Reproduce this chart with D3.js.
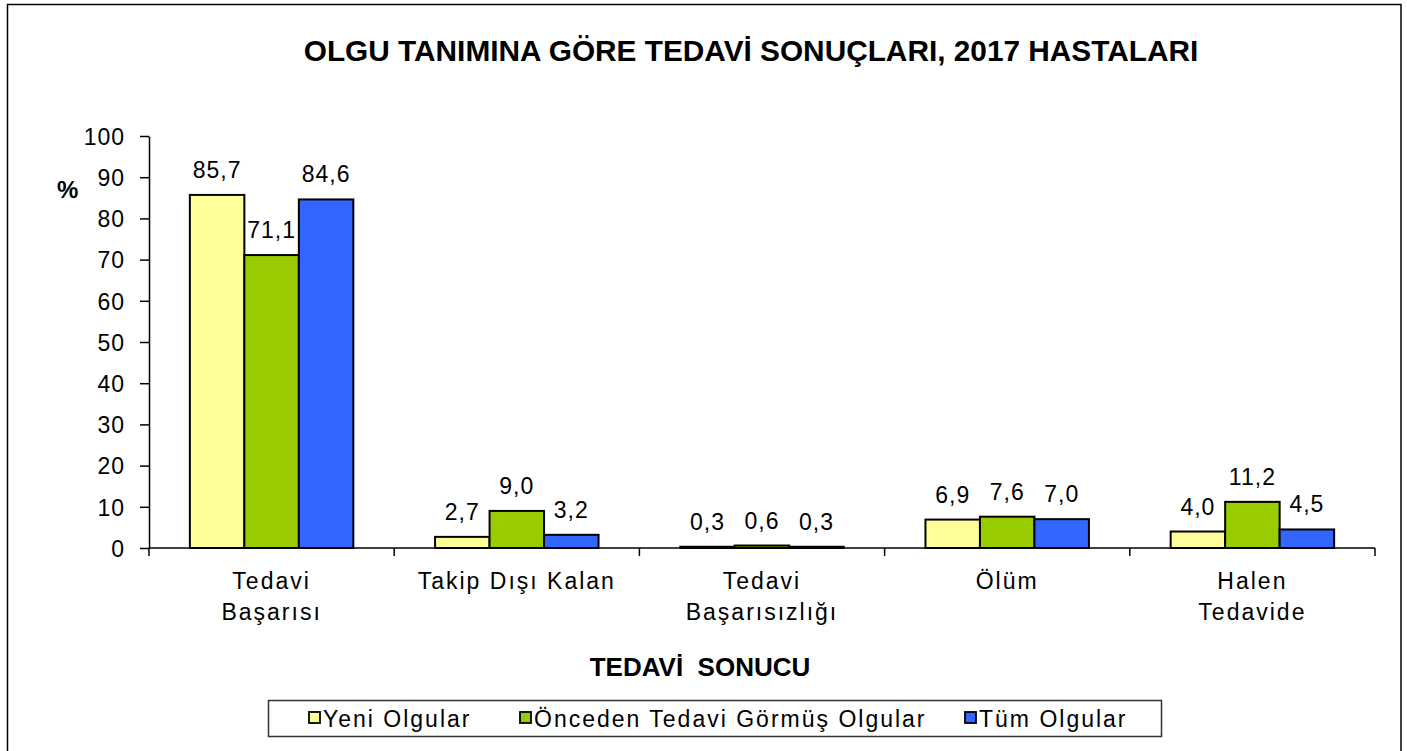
<!doctype html>
<html>
<head>
<meta charset="utf-8">
<style>
	body {
		margin: 0;
		background: #fff;
	}
	svg text {
		font-family: "Liberation Sans", Arial, sans-serif;
		fill: #000;
	}
	.title {
		font-size: 29.8px;
		font-weight: bold;
	}
	.axis-title {
		font-size: 26px;
		font-weight: bold;
	}
	.val {
		font-size: 23px;
		letter-spacing: 1px;
	}
	.cat {
		font-size: 23px;
		letter-spacing: 2px;
	}
	.bar {
		stroke: #000;
		stroke-width: 2px;
	}
	.legend-text {
		font-size: 23px;
		letter-spacing: 2px;
	}
</style>
<script src="https://d3js.org/d3.v7.min.js"></script>
</head>
<body>
<div id="canvas"></div>
<script>
	var categories = [["Tedavi", "Başarısı"], ["Takip Dışı Kalan"], ["Tedavi", "Başarısızlığı"], ["Ölüm"], ["Halen", "Tedavide"]];
	var seriesNames = ["Yeni Olgular", "Önceden Tedavi Görmüş Olgular", "Tüm Olgular"];
	var yeni = [85.7, 2.7, 0.3, 6.9, 4.0];
	var onceden = [71.1, 9.0, 0.6, 7.6, 11.2];
	var tum = [84.6, 3.2, 0.3, 7.0, 4.5];
	var yTicks = [0, 10, 20, 30, 40, 50, 60, 70, 80, 90, 100];
	var colors = ["#ffff99", "#99cc00", "#3366ff"];

	var width = 1407,
		height = 751,
		margin = {top: 136, right: 32, bottom: 203, left: 149};

	var svg = d3.select("#canvas")
		.append("svg")
		.attr("width", width)
		.attr("height", height);

	// outer frame
	svg.append("rect")
		.attr("x", 7.5)
		.attr("y", 4.5)
		.attr("width", 1393.5)
		.attr("height", 760)
		.attr("fill", "#fff")
		.attr("stroke", "#000")
		.attr("stroke-width", 1.5);

	svg.append("text")
		.attr("class", "title")
		.attr("x", 751)
		.attr("y", 61)
		.attr("text-anchor", "middle")
		.text("OLGU TANIMINA GÖRE TEDAVİ SONUÇLARI, 2017 HASTALARI");

	var keys = categories.map((c, i) => "c" + i);
	var rows = keys.map((k, i) => ({key: k, label: categories[i], values: [yeni[i], onceden[i], tum[i]]}));

	var x0 = d3.scaleBand()
		.domain(keys)
		.range([margin.left, width - margin.right])
		.padding(0);

	var x1 = d3.scaleBand()
		.domain(seriesNames)
		.range([0, x0.bandwidth()])
		.paddingInner(0)
		.paddingOuter(0.75);

	var y = d3.scaleLinear()
		.domain([0, 100])
		.range([height - margin.bottom, margin.top]);

	// y axis
	var gy = svg.append("g")
		.attr("transform", `translate(${margin.left}, 0)`)
		.call(d3.axisLeft(y)
			.tickValues(yTicks)
			.tickSize(9)
			.tickSizeOuter(0)
			.tickPadding(15));
	gy.selectAll("text")
		.attr("class", "val")
		.attr("font-family", null)
		.attr("font-size", null)
		.attr("dy", "0.36em");
	gy.selectAll("line, path").attr("stroke", "#000").attr("stroke-width", 1.5);

	svg.append("text")
		.attr("x", 57)
		.attr("y", 198)
		.style("font-size", "24px")
		.style("font-weight", "bold")
		.text("%");

	// bars
	var groups = svg.selectAll("g.grp")
		.data(rows)
		.enter().append("g")
		.attr("class", "grp")
		.attr("transform", d => `translate(${x0(d.key)}, 0)`);

	groups.selectAll("rect")
		.data(d => d.values.map((v, j) => ({name: seriesNames[j], value: v, j: j})))
		.enter().append("rect")
		.attr("class", "bar")
		.attr("x", d => x1(d.name))
		.attr("y", d => y(d.value))
		.attr("width", x1.bandwidth())
		.attr("height", d => y(0) - y(d.value))
		.attr("fill", d => colors[d.j]);

	groups.selectAll("text.val")
		.data(d => d.values.map((v, j) => ({name: seriesNames[j], value: v})))
		.enter().append("text")
		.attr("class", "val")
		.attr("x", d => x1(d.name) + x1.bandwidth() / 2)
		.attr("y", d => y(d.value) - 17)
		.attr("text-anchor", "middle")
		.text(d => d3.format(".1f")(d.value).replace(".", ","));

	// x axis
	var xAxis = svg.append("g");
	xAxis.append("line")
		.attr("x1", x0.range()[0])
		.attr("x2", x0.range()[1])
		.attr("y1", y(0))
		.attr("y2", y(0))
		.attr("stroke", "#000")
		.attr("stroke-width", 1.5);
	xAxis.selectAll("line.tk")
		.data(keys.concat(["end"]))
		.enter().append("line")
		.attr("class", "tk")
		.attr("x1", (d, i) => x0.range()[0] + i * x0.step())
		.attr("x2", (d, i) => x0.range()[0] + i * x0.step())
		.attr("y1", y(0))
		.attr("y2", y(0) + 8)
		.attr("stroke", "#000")
		.attr("stroke-width", 1.5);

	var catText = svg.selectAll("text.cat")
		.data(rows)
		.enter().append("text")
		.attr("class", "cat")
		.attr("text-anchor", "middle")
		.attr("x", d => x0(d.key) + x0.bandwidth() / 2)
		.attr("y", 589);
	catText.selectAll("tspan")
		.data(d => d.label.map(l => ({l: l, x: x0(d.key) + x0.bandwidth() / 2})))
		.enter().append("tspan")
		.attr("x", d => d.x)
		.attr("dy", (d, i) => i ? 31 : 0)
		.text(d => d.l);

	svg.append("text")
		.attr("class", "axis-title")
		.attr("x", 700)
		.attr("y", 676)
		.attr("text-anchor", "middle")
		.style("white-space", "pre")
		.text("TEDAVİ  SONUCU");

	// legend
	var legend = svg.append("g");
	legend.append("rect")
		.attr("x", 268.5)
		.attr("y", 700.5)
		.attr("width", 893)
		.attr("height", 36)
		.attr("fill", "#fff")
		.attr("stroke", "#333")
		.attr("stroke-width", 1.5);

	var legendX = [309, 520, 965];
	var items = legend.selectAll("g.item")
		.data(seriesNames)
		.enter().append("g")
		.attr("class", "item")
		.attr("transform", (d, i) => `translate(${legendX[i]}, 712)`);
	items.append("rect")
		.attr("width", 11)
		.attr("height", 11)
		.attr("fill", (d, i) => colors[i])
		.attr("stroke", "#000")
		.attr("stroke-width", 1.8);
	items.append("text")
		.attr("class", "legend-text")
		.attr("x", 14)
		.attr("y", 15)
		.text(d => d);
</script>
</body>
</html>
